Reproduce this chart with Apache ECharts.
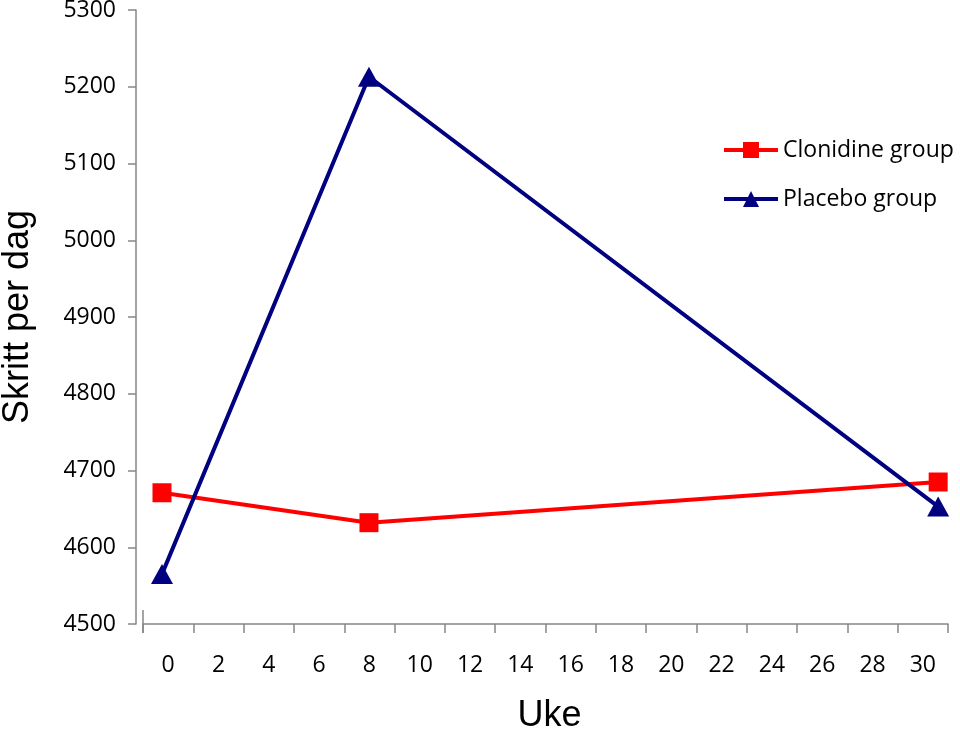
<!DOCTYPE html>
<html>
<head>
<meta charset="utf-8">
<script src="https://cdn.jsdelivr.net/npm/echarts@6/dist/echarts.min.js"></script>
<style>html,body{margin:0;padding:0;background:#fff}#c{width:960px;height:732px}</style>
</head>
<body>
<div id="c"></div>
<script>
var weekLabels = ['0','2','4','6','8','10','12','14','16','18','20','22','24','26','28','30'];
var weeks = [0, 8, 30];
var clonidine = [4671, 4632, 4685];
var placebo = [4565, 5213, 4653];
var yTicks = [4500, 5300, 100];

var chart = echarts.init(document.getElementById('c'));
var gray = '#868686';
chart.setOption({
  animation: false,
  grid: {left: 143, right: 12, top: 10, bottom: 108, containLabel: false, outerBoundsMode: 'none'},
  legend: {
    orient: 'vertical', left: 722, top: 137, padding: 0, itemWidth: 54, itemHeight: 20, itemGap: 23,
    lineStyle: {width: 4, inactiveWidth: 4},
    textStyle: {fontFamily: 'Open Sans', fontSize: 23, color: '#000', lineHeight: 26}
  },
  xAxis: [
    {type: 'category', data: weekLabels, boundaryGap: true, position: 'bottom',
     axisLine: {onZero: false, lineStyle: {color: gray, width: 1.5}},
     axisTick: {show: true, length: 9, lineStyle: {color: gray, width: 1.5}},
     axisLabel: {margin: 30, interval: 0, fontFamily: 'Open Sans', fontSize: 23, color: '#000'},
     name: 'Uke', nameLocation: 'middle', nameGap: 74,
     nameTextStyle: {fontFamily: 'Liberation Sans', fontSize: 36, color: '#000', padding: [0, 0, 0, 8]}},
    {type: 'value', min: -0.734, max: 30.38, show: false}
  ],
  yAxis: {
    type: 'value', min: yTicks[0], max: yTicks[1], interval: yTicks[2], offset: 7,
    splitLine: {show: false},
    axisLine: {show: true, onZero: false, lineStyle: {color: gray, width: 1.5}},
    axisTick: {show: true, length: 8, lineStyle: {color: gray, width: 1.5}},
    axisLabel: {margin: 20, fontFamily: 'Open Sans', fontSize: 23, color: '#000',
      formatter: function(v){return String(v);}},
    name: 'Skritt per dag', nameLocation: 'middle', nameGap: 100, nameRotate: 90,
    nameTextStyle: {fontFamily: 'Liberation Sans', fontSize: 36, color: '#000'}
  },
  graphic: [{type: 'line', shape: {x1: 143, y1: 610, x2: 143, y2: 633}, style: {stroke: gray, lineWidth: 1.5}}],
  series: [
    {name: 'Clonidine group', type: 'line', xAxisIndex: 1,
     data: weeks.map(function(w, i){return [w, clonidine[i]];}),
     symbol: 'rect', symbolSize: 19, lineStyle: {color: '#ff0000', width: 4},
     itemStyle: {color: '#ff0000'}},
    {name: 'Placebo group', type: 'line', xAxisIndex: 1,
     data: weeks.map(function(w, i){return [w, placebo[i]];}),
     symbol: 'triangle', symbolSize: [22, 20], lineStyle: {color: '#000080', width: 4},
     itemStyle: {color: '#000080'}}
  ]
});
</script>
</body>
</html>
